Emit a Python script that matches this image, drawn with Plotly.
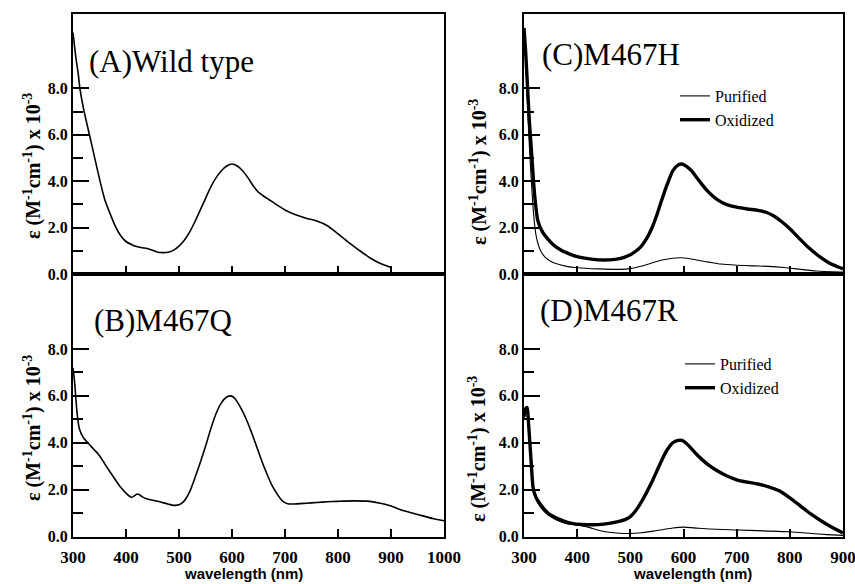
import plotly.graph_objects as go

# ---------------- data ----------------
wl_A = [300, 305, 310, 313, 320, 331, 340, 351, 360, 370, 380, 390, 400, 410, 420, 430, 440, 450,
        460, 470, 480, 490, 500, 510, 520, 530, 540, 550, 560, 570, 580, 590, 600, 610, 620, 630,
        640, 650, 660, 670, 680, 690, 700, 720, 740, 760, 780, 800, 820, 840, 860, 880, 900]
eps_A = [10.4, 9.4, 8.6, 8.0, 7.1, 6.0, 5.1, 4.0, 3.2, 2.6, 2.05, 1.65, 1.4, 1.27, 1.18, 1.13, 1.1, 1.02,
         0.94, 0.92, 0.94, 1.03, 1.2, 1.45, 1.8, 2.25, 2.75, 3.25, 3.75, 4.15, 4.45, 4.65, 4.74, 4.65, 4.45, 4.15,
         3.8, 3.52, 3.35, 3.2, 3.05, 2.9, 2.76, 2.55, 2.4, 2.28, 2.08, 1.73, 1.36, 1.02, 0.7, 0.45, 0.28]

wl_B = [300, 303, 305, 308, 312, 320, 330, 340, 350, 360, 370, 380, 390, 400, 410, 415, 420, 425, 430,
        440, 460, 480, 490, 500, 510, 520, 530, 540, 550, 560, 570, 580, 590, 598, 605, 615, 625, 635,
        645, 655, 665, 675, 685, 695, 705, 720, 740, 760, 780, 800, 830, 860, 880, 900, 920, 940, 960,
        980, 1000]
eps_B = [7.2, 6.6, 6.0, 5.2, 4.6, 4.2, 3.95, 3.7, 3.45, 3.1, 2.75, 2.42, 2.1, 1.85, 1.67, 1.72, 1.8, 1.79, 1.7,
         1.6, 1.5, 1.38, 1.33, 1.35, 1.52, 1.9, 2.5, 3.15, 3.85, 4.6, 5.25, 5.7, 5.95, 6.0, 5.9, 5.55, 5.1, 4.55,
         3.93, 3.3, 2.72, 2.2, 1.82, 1.52, 1.4, 1.39, 1.42, 1.45, 1.48, 1.5, 1.52, 1.5, 1.42, 1.3, 1.13, 1.0, 0.88,
         0.76, 0.67]

wl_C_ox = [300, 303, 307, 310, 314, 320, 326, 335, 345, 355, 370, 385, 400, 420, 440, 460, 480, 500, 510,
           520, 530, 540, 550, 560, 570, 580, 590, 597, 605, 615, 625, 635, 645, 655, 665, 680, 700, 720,
           740, 755, 770, 785, 800, 815, 830, 845, 860, 875, 890, 900]
eps_C_ox = [10.6, 9.6, 7.9, 6.6, 5.3, 3.4, 2.3, 1.8, 1.5, 1.26, 1.02, 0.87, 0.75, 0.66, 0.61, 0.61, 0.66, 0.83, 0.98,
            1.18, 1.5, 1.95, 2.55, 3.25, 3.9, 4.45, 4.7, 4.74, 4.65, 4.45, 4.15, 3.85, 3.58, 3.36, 3.18, 3.0, 2.88, 2.8,
            2.74, 2.66, 2.5, 2.25, 1.95, 1.6, 1.25, 0.95, 0.68, 0.46, 0.31, 0.22]

wl_C_pur = [300, 303, 306, 309, 313, 318, 322, 327, 333, 340, 350, 360, 380, 400, 440, 480, 500, 520, 540,
            560, 580, 595, 610, 630, 650, 670, 700, 730, 760, 790, 820, 850, 880, 900]
eps_C_pur = [10.6, 9.3, 7.6, 6.0, 4.3, 2.6, 1.75, 1.25, 0.93, 0.72, 0.55, 0.45, 0.33, 0.27, 0.22, 0.2, 0.23, 0.33, 0.47,
             0.6, 0.68, 0.7, 0.67, 0.58, 0.5, 0.43, 0.38, 0.35, 0.33, 0.28, 0.2, 0.13, 0.09, 0.08]

wl_D_ox = [300, 303, 306, 308, 311, 314, 317, 322, 330, 345, 360, 375, 390, 410, 430, 450, 470, 490, 500,
           510, 520, 530, 540, 550, 560, 570, 580, 590, 597, 605, 615, 625, 635, 650, 665, 680, 700, 720,
           740, 760, 780, 800, 820, 840, 860, 880, 900]
eps_D_ox = [5.1, 5.45, 5.5, 5.0, 4.0, 3.0, 2.1, 1.7, 1.4, 1.0, 0.8, 0.66, 0.56, 0.51, 0.5, 0.53, 0.6, 0.72, 0.85,
            1.1, 1.45, 1.85, 2.3, 2.8, 3.3, 3.72, 4.0, 4.1, 4.1, 3.98, 3.75, 3.5, 3.28, 3.0, 2.78, 2.6, 2.42, 2.32,
            2.24, 2.12, 1.95, 1.65, 1.3, 0.95, 0.65, 0.38, 0.15]

wl_D_pur = [300, 303, 306, 308, 311, 314, 317, 322, 330, 345, 360, 380, 400, 420, 440, 460, 480, 500, 520,
            540, 560, 580, 600, 620, 650, 700, 750, 800, 840, 870, 900]
eps_D_pur = [5.0, 5.35, 5.4, 4.9, 3.9, 2.9, 2.0, 1.6, 1.28, 0.92, 0.72, 0.55, 0.48, 0.4, 0.27, 0.18, 0.14, 0.13, 0.16,
             0.22, 0.29, 0.36, 0.4, 0.37, 0.32, 0.28, 0.24, 0.2, 0.13, 0.08, 0.05]

panel_titles = ["(A)Wild type", "(B)M467Q", "(C)M467H", "(D)M467R"]
series_names = ["Purified", "Oxidized"]
y_tickvals = [0, 2, 4, 6, 8]
y_ticktext = ["0.0", "2.0", "4.0", "6.0", "8.0"]
x_ticks_left = [300, 400, 500, 600, 700, 800, 900, 1000]
x_ticks_right = [300, 400, 500, 600, 700, 800, 900]
y_title = "ε (M<sup>-1</sup>cm<sup>-1</sup>) x 10<sup>-3</sup>"
x_title = "wavelength (nm)"

# ---------------- figure ----------------
W, H = 855, 584
SERIF = "Liberation Serif"
SANS = "Liberation Sans"

def px(x):
    return x / W

def py(y):
    return 1 - y / H

fig = go.Figure()

fig.add_trace(go.Scatter(x=wl_A, y=eps_A, mode="lines", line=dict(color="black", width=1.6, shape="spline", smoothing=0.6),
                         xaxis="x", yaxis="y", showlegend=False))
fig.add_trace(go.Scatter(x=wl_B, y=eps_B, mode="lines", line=dict(color="black", width=1.6, shape="spline", smoothing=0.6),
                         xaxis="x2", yaxis="y2", showlegend=False))
fig.add_trace(go.Scatter(x=wl_C_pur, y=eps_C_pur, mode="lines", name=series_names[0],
                         line=dict(color="black", width=1.1, shape="spline", smoothing=0.6),
                         xaxis="x3", yaxis="y3", legend="legend"))
fig.add_trace(go.Scatter(x=wl_C_ox, y=eps_C_ox, mode="lines", name=series_names[1],
                         line=dict(color="black", width=3.4, shape="spline", smoothing=0.6),
                         xaxis="x3", yaxis="y3", legend="legend"))
fig.add_trace(go.Scatter(x=wl_D_pur, y=eps_D_pur, mode="lines", name=series_names[0],
                         line=dict(color="black", width=1.1, shape="spline", smoothing=0.6),
                         xaxis="x4", yaxis="y4", legend="legend2"))
fig.add_trace(go.Scatter(x=wl_D_ox, y=eps_D_ox, mode="lines", name=series_names[1],
                         line=dict(color="black", width=3.4, shape="spline", smoothing=0.6),
                         xaxis="x4", yaxis="y4", legend="legend2"))

xl = [px(73), px(444)]
xr = [px(524), px(843)]
ytop = [py(274), py(14)]
ybot = [py(536.5), py(274)]

xtickfont = dict(family=SERIF, size=17, color="black", weight="bold")
ytickfont = dict(family=SERIF, size=16, color="black", weight="bold")

def xaxis(domain, anchor, rng, ticks, labels):
    return dict(domain=domain, anchor=anchor, range=rng, showline=True, linecolor="black", linewidth=2,
                mirror=True, ticks="inside", ticklen=8, tickwidth=1.8, tickcolor="black",
                tickmode="array", tickvals=ticks, ticktext=[str(t) for t in ticks],
                showticklabels=labels, tickfont=xtickfont, ticklabelstandoff=4, ticklabeloverflow="allow",
                showgrid=False, zeroline=False, automargin=False, fixedrange=True)

def yaxis(domain, anchor):
    return dict(domain=domain, anchor=anchor, range=[0, 11.2], showline=True, linecolor="black", linewidth=2,
                mirror=True, ticks="inside", ticklen=16, tickwidth=1.5, tickcolor="black",
                tickmode="array", tickvals=y_tickvals, ticktext=y_ticktext, tickfont=ytickfont,
                minor=dict(tickvals=[1, 3, 5, 7], ticks="inside", ticklen=10, tickwidth=1.5, tickcolor="black"),
                showgrid=False, zeroline=False, automargin=False, fixedrange=True)

legend_font = dict(family=SERIF, size=16, color="black")

fig.update_layout(
    width=W, height=H,
    margin=dict(l=0, r=0, t=0, b=0),
    paper_bgcolor="white", plot_bgcolor="white",
    font=dict(family=SERIF, color="black"),
    xaxis=xaxis(xl, "y", [300, 1000], x_ticks_left, False),
    yaxis=yaxis(ytop, "x"),
    xaxis2=xaxis(xl, "y2", [300, 1000], x_ticks_left, True),
    yaxis2=yaxis(ybot, "x2"),
    xaxis3=xaxis(xr, "y3", [300, 900], x_ticks_right, False),
    yaxis3=yaxis(ytop, "x3"),
    xaxis4=xaxis(xr, "y4", [300, 900], x_ticks_right, True),
    yaxis4=yaxis(ybot, "x4"),
    legend=dict(x=px(675), y=py(79), xanchor="left", yanchor="top", bgcolor="rgba(0,0,0,0)",
                font=legend_font, tracegroupgap=0, itemwidth=30),
    legend2=dict(x=px(680), y=py(347), xanchor="left", yanchor="top", bgcolor="rgba(0,0,0,0)",
                 font=legend_font, tracegroupgap=0, itemwidth=30),
    showlegend=True,
)

ann = []
# panel titles
for (t, x, y) in zip(panel_titles, [87, 92, 540, 538], [62, 320, 55, 310]):
    ann.append(dict(text=t, x=px(x), y=py(y), xref="paper", yref="paper", xanchor="left", yanchor="middle",
                    showarrow=False, font=dict(family=SERIF, size=31, color="black")))
# y-axis titles
for (x, y) in [(32, 166), (32, 428), (478, 172), (477, 449)]:
    ann.append(dict(text=y_title, x=px(x), y=py(y), xref="paper", yref="paper", xanchor="center", yanchor="middle",
                    textangle=-90, showarrow=False, font=dict(family=SERIF, size=20, color="black", weight="bold")))
# x-axis titles
for x in [243, 692]:
    ann.append(dict(text=x_title, x=px(x), y=py(573), xref="paper", yref="paper", xanchor="center", yanchor="middle",
                    showarrow=False, font=dict(family=SANS, size=15, color="black", weight="bold")))
fig.update_layout(annotations=ann)

fig.write_html("out.html", config={"displayModeBar": False},
               post_script="document.body.style.margin='0px';")
